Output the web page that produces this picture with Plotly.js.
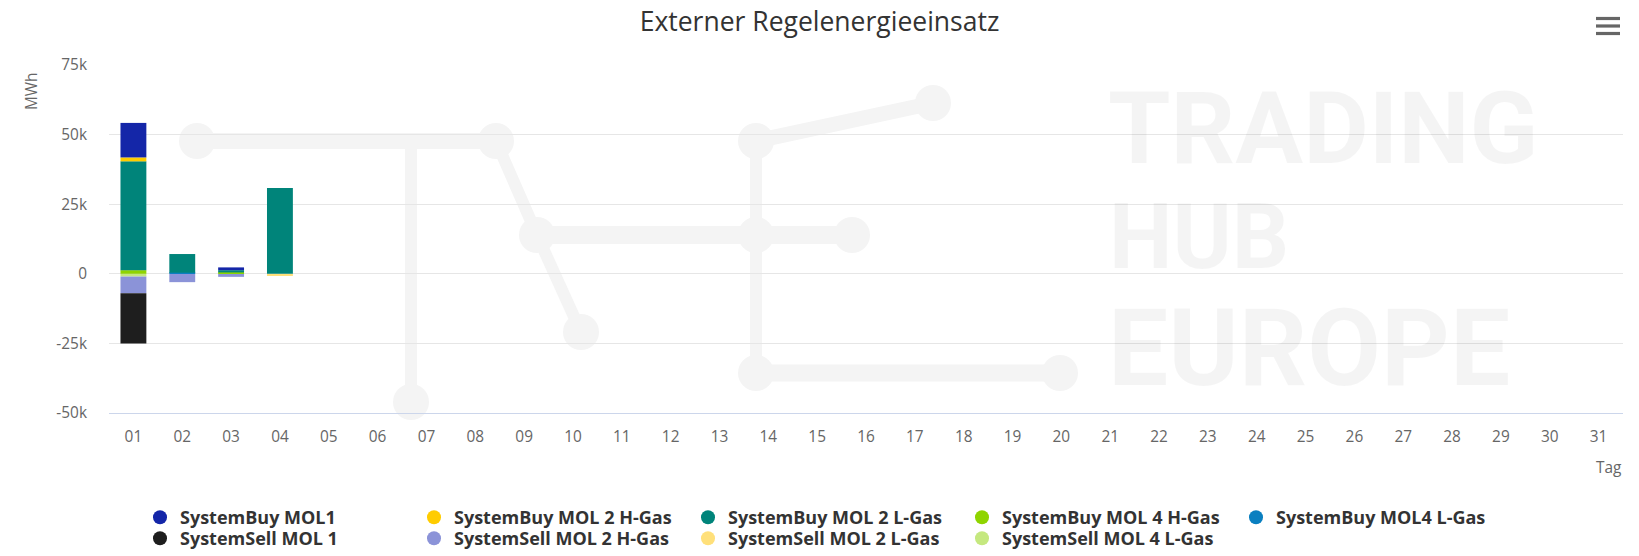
<!DOCTYPE html>
<html>
<head>
<meta charset="utf-8">
<script src="https://cdn.plot.ly/plotly-3.0.1.min.js"></script>
<style>html,body{margin:0;padding:0;background:#fff;}#chart{width:1639px;height:556px;}</style>
</head>
<body>
<div id="chart"></div>
<script>
// ---- data ----
const days = ["01","02","03","04","05","06","07","08","09","10","11","12","13","14","15","16","17","18","19","20","21","22","23","24","25","26","27","28","29","30","31"];
const seriesNames = ["SystemBuy MOL1","SystemBuy MOL 2 H-Gas","SystemBuy MOL 2 L-Gas","SystemBuy MOL 4 H-Gas","SystemBuy MOL4 L-Gas","SystemSell MOL 1","SystemSell MOL 2 H-Gas","SystemSell MOL 2 L-Gas","SystemSell MOL 4 L-Gas"];
const seriesColors = ["#1426a8","#ffcc00","#00847a","#8fd400","#0a7fc0","#1e1e1e","#8b93d8","#ffe07a","#c5e87f"];
const buyMOL1   = [12400, null, 1000, null];
const buyMOL2H  = [1400, null, null, null];
const buyMOL2L  = [39100, 6700, 800, 30800];
const buyMOL4H  = [1300, null, 500, null];
const buyMOL4L  = [null, 400, null, null];
const sellMOL1  = [-18000, null, null, null];
const sellMOL2H = [-6000, -3000, -1100, null];
const sellMOL2L = [null, null, null, -800];
const sellMOL4L = [-1000, null, null, null];
const seriesValues = [buyMOL1, buyMOL2H, buyMOL2L, buyMOL4H, buyMOL4L, sellMOL1, sellMOL2H, sellMOL2L, sellMOL4L];
const yTickVals = [-50000, -25000, 0, 25000, 50000, 75000];
const yTickText = ["-50k", "-25k", "0", "25k", "50k", "75k"];

// ---- geometry helpers (page px -> paper) ----
const W = 1639, H = 556;
const M = {l: 109, r: 16, t: 65, b: 143, autoexpand: false};
const PW = W - M.l - M.r, PH = H - M.t - M.b;
const px = x => (x - M.l) / PW;
const py = y => (H - M.b - y) / PH;

const traces = [];
// bars: reversed so stacking matches (first series on top)
for (let i = seriesNames.length - 1; i >= 0; i--) {
  const vals = seriesValues[i];
  traces.push({
    type: "bar",
    x: days.slice(0, vals.length),
    y: vals,
    name: seriesNames[i],
    marker: {color: seriesColors[i], line: {width: 0}},
    showlegend: false,
    hoverinfo: "skip"
  });
}
// legend proxies with circle symbols (row 1: buys, row 2: sells)
for (let i = 0; i < seriesNames.length; i++) {
  traces.push({
    type: "scatter", mode: "markers",
    x: [days[0]], y: [null],
    name: seriesNames[i],
    legend: i < 5 ? "legend" : "legend2",
    marker: {color: seriesColors[i], size: 14, symbol: "circle"},
    hoverinfo: "skip"
  });
}

// watermark shapes
const wm = "#f4f4f4";
const shapes = [];
function seg(x0, y0, x1, y1, w) {
  shapes.push({type: "line", xref: "paper", yref: "paper", x0: px(x0), y0: py(y0), x1: px(x1), y1: py(y1),
    line: {color: wm, width: w}, layer: "below"});
}
function dot(x, y, r) {
  shapes.push({type: "circle", xref: "paper", yref: "paper", x0: px(x - r), x1: px(x + r), y0: py(y + r), y1: py(y - r),
    fillcolor: wm, line: {width: 0}, layer: "below"});
}
seg(197, 141, 496, 141, 16);
seg(411, 141, 411, 402, 12);
seg(496, 141, 537, 235, 12);
seg(537, 235, 581, 332, 12);
seg(537, 235, 852, 235, 18);
seg(756, 141, 756, 373, 12);
seg(756, 141, 933, 103, 15);
seg(756, 373, 1060, 373, 17);
[[197,141],[496,141],[537,235],[581,332],[411,402],[756,141],[933,103],[852,235],[756,235],[756,373],[1060,373]].forEach(p => dot(p[0], p[1], 18));
// menu icon
[18.5, 26, 33.5].forEach(y => shapes.push({type: "line", xref: "paper", yref: "paper",
  x0: px(1596), x1: px(1620), y0: py(y), y1: py(y), line: {color: "#666666", width: 3.2}, layer: "above"}));

const wmColor = "rgba(0,0,0,0.045)";
const annotations = [
  {text: "TRADING", x: px(1106), y: py(128), size: 101},
  {text: "HUB", x: px(1107), y: py(237), size: 90},
  {text: "EUROPE", x: px(1106), y: py(348), size: 107}
].map(a => ({text: a.text, x: a.x, y: a.y, xref: "paper", yref: "paper", xanchor: "left", yanchor: "middle",
  showarrow: false, height: 100, font: {family: "Roboto", size: a.size, color: wmColor, weight: "bold"}}));
annotations.push({text: "MWh", xref: "paper", yref: "paper", x: px(32), y: py(91), textangle: -90,
  showarrow: false, xanchor: "center", yanchor: "middle", font: {family: "Open Sans", size: 15.4, color: "#666666"}});
annotations.push({text: "Tag", xref: "paper", yref: "paper", x: px(1624), y: py(467),
  showarrow: false, xanchor: "right", yanchor: "middle", font: {family: "Open Sans", size: 15.4, color: "#666666"}});

const legendBase = {orientation: "h", xanchor: "left", yanchor: "top",
  entrywidth: 229, entrywidthmode: "pixels", itemwidth: 30, traceorder: "normal",
  font: {family: "Open Sans", size: 18, color: "#333333", weight: "bold"}, bgcolor: "rgba(0,0,0,0)"};

const layout = {
  width: W, height: H,
  margin: M,
  paper_bgcolor: "#ffffff", plot_bgcolor: "rgba(0,0,0,0)",
  font: {family: "Open Sans", color: "#666666"},
  title: {text: "Externer Regelenergieeinsatz", x: 0.5, xref: "container", xanchor: "center",
    y: 1 - 21.7 / H, yref: "container", yanchor: "middle", automargin: false,
    font: {family: "Open Sans", size: 26.5, color: "#333333"}},
  barmode: "relative",
  bargap: 0.47,
  hovermode: false,
  xaxis: {type: "category", categoryorder: "array", categoryarray: days, range: [-0.5, 30.5],
    showgrid: false, zeroline: false, showline: true, linecolor: "#ccd6eb", linewidth: 1,
    ticks: "", ticklabelstandoff: 10, tickfont: {family: "Open Sans", size: 15.4, color: "#666666"}, fixedrange: true},
  yaxis: {range: [-50000, 75000], tickvals: yTickVals, ticktext: yTickText,
    showgrid: true, gridcolor: "#e6e6e6", gridwidth: 1, zeroline: false, showline: false,
    ticks: "", ticklabelstandoff: 21, tickfont: {family: "Open Sans", size: 15.4, color: "#666666"}, fixedrange: true},
  legend: Object.assign({}, legendBase, {x: px(140), y: py(499)}),
  legend2: Object.assign({}, legendBase, {x: px(140), y: py(520)}),
  shapes: shapes,
  annotations: annotations
};

Plotly.newPlot("chart", traces, layout, {displayModeBar: false, staticPlot: false, responsive: false});
</script>
</body>
</html>
